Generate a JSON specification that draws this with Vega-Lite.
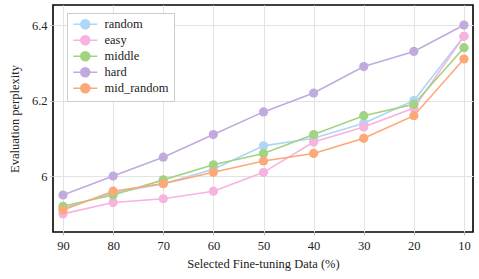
{
  "$schema": "https://vega.github.io/schema/vega-lite/v6.json",
  "width": 420,
  "height": 227,
  "autosize": {"type": "none"},
  "padding": {"left": 53, "top": 5, "right": 6, "bottom": 47},
  "background": "white",
  "config": {
    "font": "'Liberation Serif', 'DejaVu Serif', serif",
    "view": {"stroke": "black", "strokeWidth": 1.6},
    "axis": {
      "labelFont": "'Liberation Serif', 'DejaVu Serif', serif",
      "titleFont": "'Liberation Serif', 'DejaVu Serif', serif",
      "labelFontSize": 12.5,
      "titleFontSize": 12.5,
      "titleFontWeight": "normal",
      "labelColor": "#222",
      "titleColor": "#222",
      "gridColor": "#e3e3e3",
      "gridWidth": 1,
      "domain": false,
      "tickColor": "#bbb",
      "tickSize": 3
    },
    "legend": {
      "labelFont": "'Liberation Serif', 'DejaVu Serif', serif"
    }
  },
  "data": {
    "values": [
      {"pct": 90, "series": "random", "ppl": 5.915},
      {"pct": 80, "series": "random", "ppl": 5.955},
      {"pct": 70, "series": "random", "ppl": 5.98},
      {"pct": 60, "series": "random", "ppl": 6.018},
      {"pct": 50, "series": "random", "ppl": 6.08},
      {"pct": 40, "series": "random", "ppl": 6.10},
      {"pct": 30, "series": "random", "ppl": 6.14},
      {"pct": 20, "series": "random", "ppl": 6.20},
      {"pct": 10, "series": "random", "ppl": 6.37},
      {"pct": 90, "series": "easy", "ppl": 5.90},
      {"pct": 80, "series": "easy", "ppl": 5.93},
      {"pct": 70, "series": "easy", "ppl": 5.94},
      {"pct": 60, "series": "easy", "ppl": 5.96},
      {"pct": 50, "series": "easy", "ppl": 6.01},
      {"pct": 40, "series": "easy", "ppl": 6.09},
      {"pct": 30, "series": "easy", "ppl": 6.13},
      {"pct": 20, "series": "easy", "ppl": 6.18},
      {"pct": 10, "series": "easy", "ppl": 6.37},
      {"pct": 90, "series": "middle", "ppl": 5.92},
      {"pct": 80, "series": "middle", "ppl": 5.95},
      {"pct": 70, "series": "middle", "ppl": 5.99},
      {"pct": 60, "series": "middle", "ppl": 6.03},
      {"pct": 50, "series": "middle", "ppl": 6.06},
      {"pct": 40, "series": "middle", "ppl": 6.11},
      {"pct": 30, "series": "middle", "ppl": 6.16},
      {"pct": 20, "series": "middle", "ppl": 6.19},
      {"pct": 10, "series": "middle", "ppl": 6.34},
      {"pct": 90, "series": "hard", "ppl": 5.95},
      {"pct": 80, "series": "hard", "ppl": 6.00},
      {"pct": 70, "series": "hard", "ppl": 6.05},
      {"pct": 60, "series": "hard", "ppl": 6.11},
      {"pct": 50, "series": "hard", "ppl": 6.17},
      {"pct": 40, "series": "hard", "ppl": 6.22},
      {"pct": 30, "series": "hard", "ppl": 6.29},
      {"pct": 20, "series": "hard", "ppl": 6.33},
      {"pct": 10, "series": "hard", "ppl": 6.40},
      {"pct": 90, "series": "mid_random", "ppl": 5.91},
      {"pct": 80, "series": "mid_random", "ppl": 5.96},
      {"pct": 70, "series": "mid_random", "ppl": 5.98},
      {"pct": 60, "series": "mid_random", "ppl": 6.01},
      {"pct": 50, "series": "mid_random", "ppl": 6.04},
      {"pct": 40, "series": "mid_random", "ppl": 6.06},
      {"pct": 30, "series": "mid_random", "ppl": 6.10},
      {"pct": 20, "series": "mid_random", "ppl": 6.16},
      {"pct": 10, "series": "mid_random", "ppl": 6.31}
    ]
  },
  "mark": {"type": "line", "strokeWidth": 1.6, "point": {"filled": true, "size": 85, "opacity": 1}},
  "encoding": {
    "x": {
      "field": "pct",
      "type": "quantitative",
      "scale": {"domain": [8.2, 92], "reverse": true, "nice": false, "zero": false},
      "axis": {"values": [90, 80, 70, 60, 50, 40, 30, 20, 10], "title": "Selected Fine-tuning Data (%)", "labelPadding": 4, "titlePadding": 6}
    },
    "y": {
      "field": "ppl",
      "type": "quantitative",
      "scale": {"domain": [5.852, 6.453], "nice": false, "zero": false},
      "axis": {"values": [6, 6.2, 6.4], "format": ".1~f", "title": "Evaluation perplexity", "labelPadding": 3, "titlePadding": 10}
    },
    "color": {
      "field": "series",
      "type": "nominal",
      "sort": ["random", "easy", "middle", "hard", "mid_random"],
      "scale": {
        "domain": ["random", "easy", "middle", "hard", "mid_random"],
        "range": ["#aed6f5", "#f8b2de", "#a2d382", "#c1abde", "#fca877"]
      },
      "legend": {
        "title": null,
        "orient": "none",
        "legendX": 14,
        "legendY": 8,
        "padding": 5,
        "strokeColor": "#cccccc",
        "fillColor": "white",
        "labelFontSize": 12.5,
        "labelColor": "#222",
        "rowPadding": 0,
        "symbolType": "M-2.4,0L2.4,0M-0.9,0A0.9,0.9,0,1,0,0.9,0A0.9,0.9,0,1,0,-0.9,0Z",
        "symbolSize": 100,
        "symbolStrokeWidth": 1.6,
        "symbolOffset": 7,
        "labelOffset": 13,
        "encode": {"symbols": {"update": {"fill": {"scale": "color", "field": "value"}, "fillOpacity": {"value": 1}}}}
      }
    },
    "order": {"field": "pct", "type": "quantitative"}
  }
}
